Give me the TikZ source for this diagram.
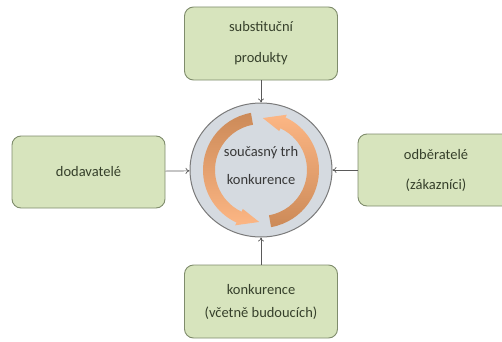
\documentclass[tikz,border=0pt]{standalone}
\usepackage{fontspec}
\setmainfont{Carlito}
\usetikzlibrary{arrows.meta,shapes.geometric}
\definecolor{boxfill}{HTML}{D7E4BD}
\definecolor{boxdraw}{HTML}{7F8C6C}
\definecolor{txt}{HTML}{36402B}
\definecolor{hubtxt}{HTML}{383838}
\definecolor{circfill}{HTML}{D5DAE0}
\definecolor{circdraw}{HTML}{7A7A7A}
\definecolor{arrdark}{HTML}{CC8A58}
\definecolor{arrlight}{HTML}{FCB684}
\definecolor{conncol}{HTML}{5A5A5A}
\begin{document}
\begin{tikzpicture}[x=1pt,y=1pt,
  box/.style={draw=boxdraw, fill=boxfill, rounded corners=9pt, line width=0.9pt,
    minimum width=153pt, minimum height=73pt, inner sep=0pt, align=center,
    text=txt, font=\fontsize{14.5}{17}\selectfont},
  conn/.style={draw=conncol, line width=0.7pt, -{To[length=4pt,width=6pt]}}]
\useasboundingbox (0,0) rectangle (502,341);
\clip (0,0) rectangle (502,341);
\node[box] (top) at (261,297.5) {substituční\\[14pt]produkty};
\node[box, minimum height=72pt] (left) at (88.5,169) {dodavatelé};
\node[box, minimum width=156pt, minimum height=72pt] (right) at (436,171) {odběratelé\\[13pt](zákazníci)};
\node[box] (bottom) at (261,39.5) {konkurence\\[6pt](včetně budoucích)};
\node[ellipse, draw=circdraw, fill=circfill, line width=1pt,
  minimum width=142pt, minimum height=134pt, inner sep=0pt] (hub) at (261,171) {};
\begin{scope}[shift={(261,171)}]
\shade[top color=arrlight, bottom color=arrdark]
  (-80:58pt) arc[start angle=-80, end angle=65, radius=58pt]
  -- (65:61pt) -- (88:52pt) -- (65:43pt) -- (65:46pt)
  arc[start angle=65, end angle=-80, radius=46pt] -- cycle;
\shade[top color=arrdark, bottom color=arrlight]
  (100:58pt) arc[start angle=100, end angle=245, radius=58pt]
  -- (245:61pt) -- (268:52pt) -- (245:43pt) -- (245:46pt)
  arc[start angle=245, end angle=100, radius=46pt] -- cycle;
\end{scope}
\node[text=hubtxt, align=center, font=\fontsize{14.5}{17}\selectfont] (hubtext) at (261,175) {současný trh\\[11pt]konkurence};
\draw[conn] (top) -- (hub);
\draw[conn] (left) -- (hub);
\draw[conn] (right) -- (hub);
\draw[conn] (bottom) -- (hub);
\end{tikzpicture}
\end{document}
